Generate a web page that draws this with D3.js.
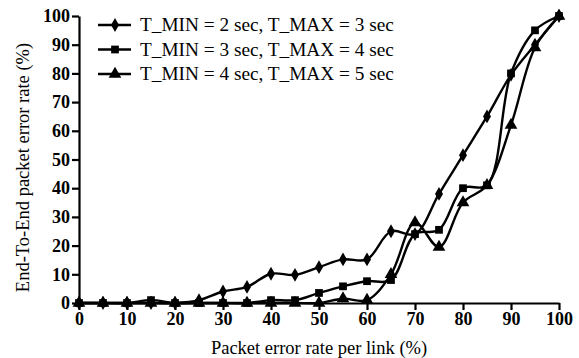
<!DOCTYPE html>
<html>
<head>
<meta charset="utf-8">
<script src="https://cdn.jsdelivr.net/npm/d3@7"></script>
<style>
  body { margin: 0; background: #fff; }
  svg { display: block; }
  .axis text { font-family: "Liberation Serif", serif; font-size: 18px; font-weight: bold; fill: #000; }
  .axis path, .axis line { stroke: #000; stroke-width: 2.2; }
  .title { font-family: "Liberation Serif", serif; font-size: 18.5px; fill: #000; }
  .legend text { font-family: "Liberation Serif", serif; font-size: 19.3px; fill: #000; }
</style>
</head>
<body>
<script>
// packet error rate per link vs end-to-end packet error rate

var xs = [0, 5, 10, 15, 20, 25, 30, 35, 40, 45, 50, 55, 60, 65, 70, 75, 80, 85, 90, 95, 100];

var s1 = [0, 0, 0, 0, 0, 1, 4, 5.6, 10.2, 9.8, 12.5, 15.2, 15.2, 25, 24, 38, 51.5, 65, 79.5, 90, 100];
var s2 = [0, 0, 0, 1, 0, 0, 0, 0, 1, 1, 3.5, 5.8, 7.6, 8, 24, 25.5, 40, 41, 80, 95, 100];
var s3 = [0, 0, 0, 0, 0, 0, 0, 0, 0, 0, 0, 1.5, 1, 10, 28, 19.5, 35, 41, 62, 89, 100];

var names = ["T_MIN = 2 sec, T_MAX = 3 sec",
             "T_MIN = 3 sec, T_MAX = 4 sec",
             "T_MIN = 4 sec, T_MAX = 5 sec"];
var shapes = [d3.symbolDiamond, d3.symbolSquare, d3.symbolTriangle];
var sizes = [55, 60, 70];

var xTicks = d3.range(0, 101, 10), yTicks = d3.range(0, 101, 10);

var W = 579, H = 358;
var margin = {top: 16, right: 20, bottom: 55, left: 79};
var width = W - margin.left - margin.right, height = H - margin.top - margin.bottom;

var svg = d3.select("body").append("svg").attr("width", W).attr("height", H)
  .append("g").attr("transform", "translate(" + margin.left + "," + margin.top + ")");

var x = d3.scaleLinear().domain([0, 100]).range([0, width]);
var y = d3.scaleLinear().domain([0, 100]).range([height, 0]);

svg.append("g")
  .attr("class", "x axis")
  .attr("transform", "translate(0," + height + ")")
  .call(d3.axisBottom(x).tickValues(xTicks).tickSize(7).tickSizeOuter(0).tickPadding(2));

svg.append("g")
  .attr("class", "y axis")
  .call(d3.axisLeft(y).tickValues(yTicks).tickSize(7).tickSizeOuter(0).tickPadding(2));

var series = [s1, s2, s3];

var line = d3.line()
  .x(function(d, i){ return x(xs[i]); })
  .y(function(d){ return y(d); })
  .curve(d3.curveCatmullRom.alpha(0.5));

series.forEach(function(s, k){
  svg.append("path")
    .datum(s)
    .attr("fill", "none")
    .attr("stroke", "#000")
    .attr("stroke-width", 2.4)
    .attr("d", line);

  svg.selectAll(".m" + k)
    .data(s)
    .enter().append("path")
    .attr("class", "m" + k)
    .attr("transform", function(d, i){ return "translate(" + x(xs[i]) + "," + y(d) + ")"; })
    .attr("d", d3.symbol().type(shapes[k]).size(sizes[k]))
    .attr("fill", "#000");
});

// legend
var legend = svg.append("g").attr("class", "legend").attr("transform", "translate(19,9)");
names.forEach(function(n, k){
  var g = legend.append("g").attr("transform", "translate(0," + (k * 24.5) + ")");
  g.append("line").attr("x1", 0).attr("x2", 33).attr("y1", 0).attr("y2", 0)
    .attr("stroke", "#000").attr("stroke-width", 2.4);
  g.append("path").attr("transform", "translate(17,0)")
    .attr("d", d3.symbol().type(shapes[k]).size(sizes[k])).attr("fill", "#000");
  g.append("text").attr("x", 42).attr("y", 6).text(n);
});

// axis titles
svg.append("text").attr("class", "title")
  .attr("x", width / 2).attr("y", height + 51)
  .attr("text-anchor", "middle")
  .text("Packet error rate per link (%)");

svg.append("text").attr("class", "title")
  .attr("transform", "translate(-50," + (height / 2 + 8) + ") rotate(-90)")
  .attr("text-anchor", "middle")
  .text("End-To-End packet error rate (%)");
</script>
</body>
</html>
